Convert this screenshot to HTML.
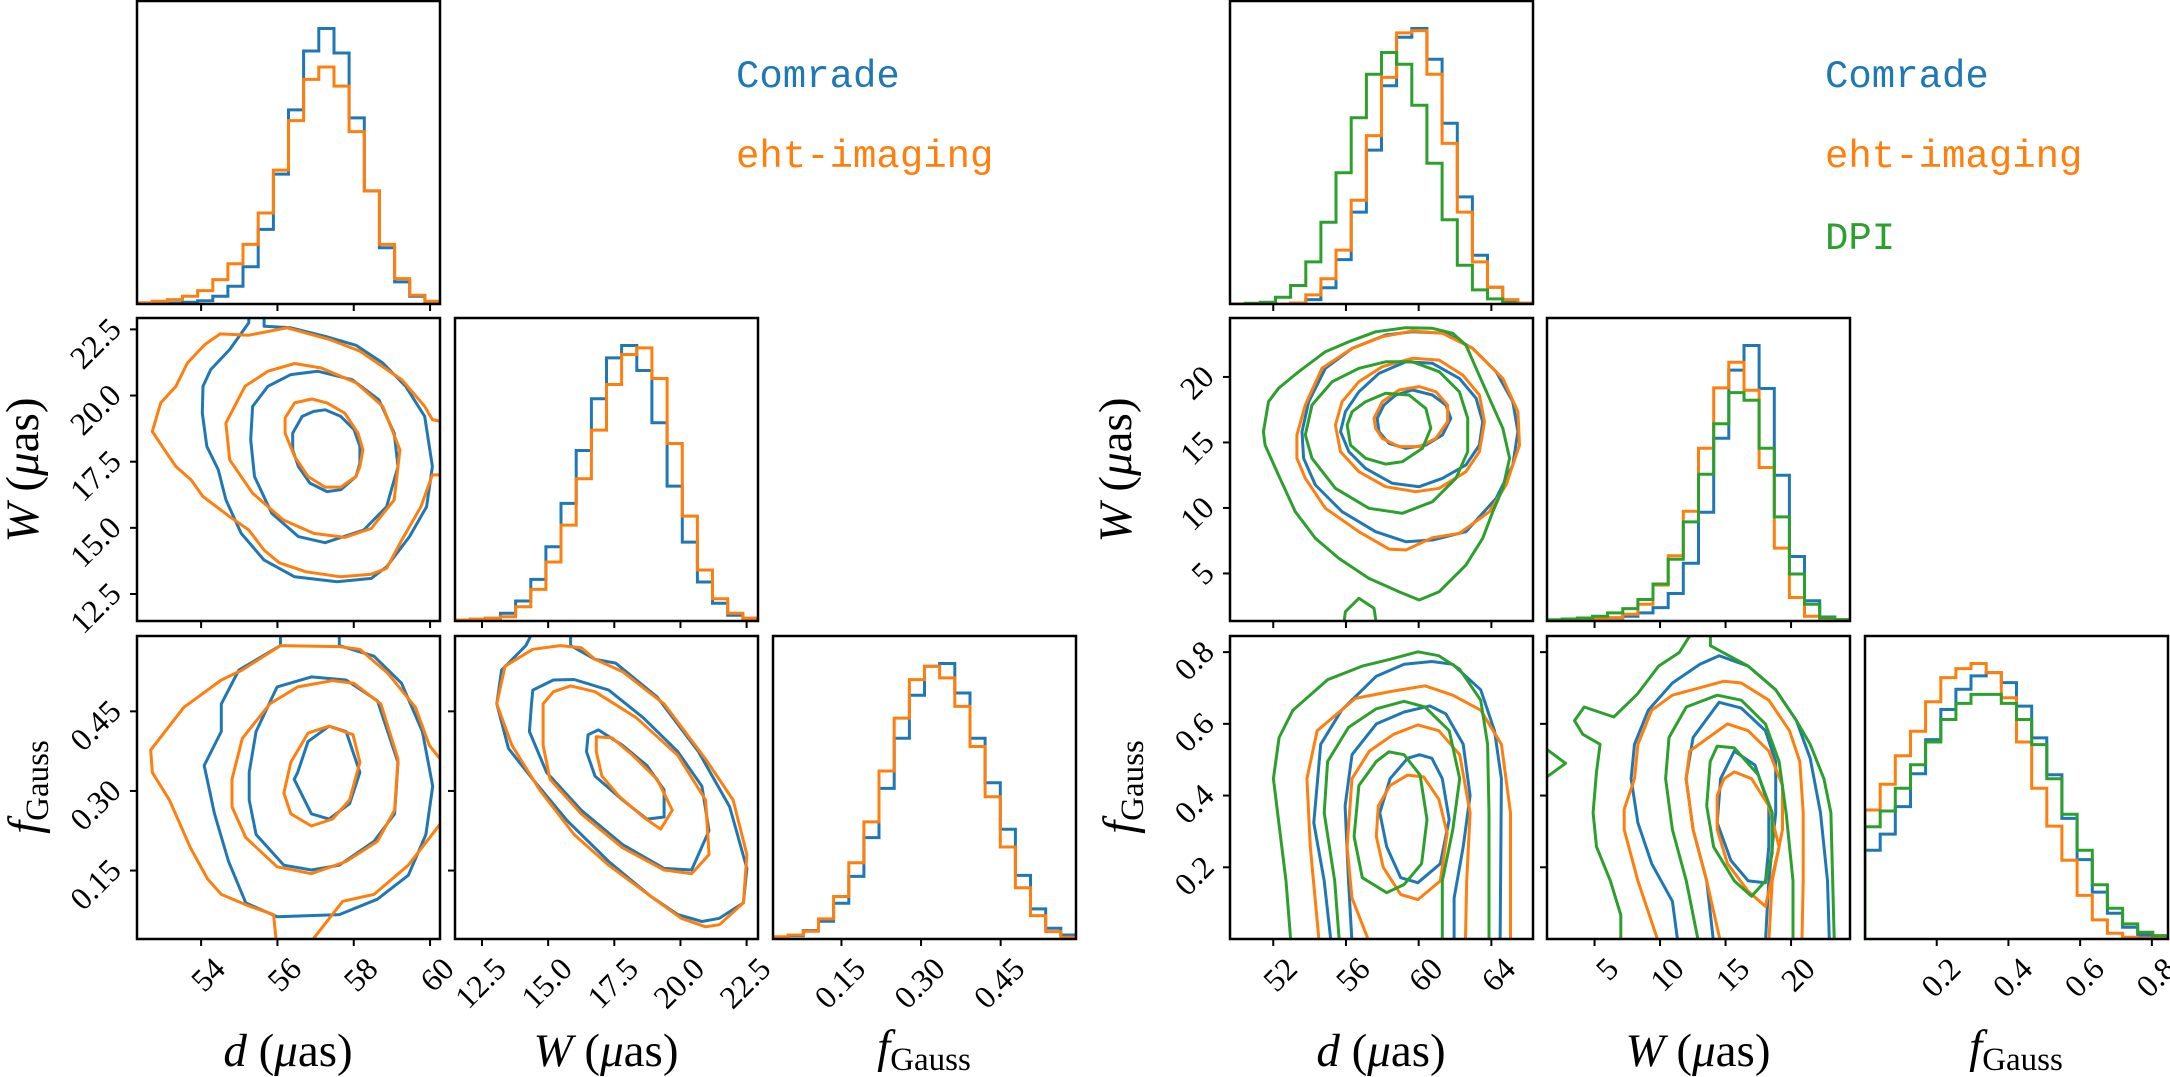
<!DOCTYPE html>
<html><head><meta charset="utf-8"><title>Corner plots</title>
<style>
html,body{margin:0;padding:0;background:#fff;}
svg{display:block;}
text{font-family:"Liberation Serif",serif;fill:#000;}
.leg{font-family:"Liberation Mono",monospace;font-size:39px;}
</style></head>
<body>
<svg id="chart" xmlns="http://www.w3.org/2000/svg" width="2170" height="1077" viewBox="0 0 2170 1077">
<rect x="0" y="0" width="2170" height="1077" fill="#fff"/>
<text class="leg" x="736" y="87" style="fill:#1f77b4">Comrade</text>
<text class="leg" x="736" y="167" style="fill:#ff7f0e">eht-imaging</text>
<text class="leg" x="1825" y="87" style="fill:#1f77b4">Comrade</text>
<text class="leg" x="1825" y="167" style="fill:#ff7f0e">eht-imaging</text>
<text class="leg" x="1825" y="249" style="fill:#2ca02c">DPI</text>
</svg>
<script>
// ---------- data ----------
const leftRanges = [[52.32,60.26],[11.48,22.93],[0.021,0.592]];
const rightRanges = [[49.62,66.29],[1.37,24.5],[0.0,0.845]];
const leftTicks = [[54,56,58,60],[12.5,15,17.5,20,22.5],[0.15,0.30,0.45]];
const leftTickLabels = [['54','56','58','60'],['12.5','15.0','17.5','20.0','22.5'],['0.15','0.30','0.45']];
const rightTicks = [[52,56,60,64],[5,10,15,20],[0.2,0.4,0.6,0.8]];
const rightTickLabels = [['52','56','60','64'],['5','10','15','20'],['0.2','0.4','0.6','0.8']];

const histLeftD_comrade = [0,2,3,5,10,23,53,111,223,388,580,756,823,750,556,338,168,66,23,6];
const histLeftD_eht = [4,8,13,23,40,73,120,178,272,400,548,671,708,651,515,338,178,76,26,8];
const histLeftW_comrade = [3,5,8,23,60,125,223,353,512,667,790,827,752,595,405,237,117,53,17,8];
const histLeftW_eht = [3,5,8,13,43,95,177,288,427,573,710,800,820,728,533,315,153,67,23,8];
const histLeftF_comrade = [5,10,25,53,107,187,303,450,600,728,815,823,735,600,467,328,190,90,32,12];
const histLeftF_eht = [7,12,23,60,127,228,350,502,660,775,815,780,695,575,425,275,153,70,22,5];
const histRightD_comrade = [0,0,0,0,3,13,48,132,273,457,648,792,818,727,537,318,145,50,10,2];
const histRightD_eht = [0,0,0,0,3,27,75,160,308,500,673,805,812,682,477,273,125,50,13,2];
const histRightD_dpi = [0,2,5,20,55,125,243,390,553,682,747,712,590,418,250,115,42,15,2,0];
const histRightW_comrade = [2,4,5,7,9,14,24,40,82,172,324,544,747,820,692,434,192,60,12,4];
const histRightW_eht = [2,2,4,7,10,20,50,107,194,327,514,694,770,687,457,217,70,14,4,4];
const histRightW_dpi = [4,6,9,14,24,37,64,110,184,295,437,587,680,657,514,310,140,50,10,4];
const histRightF_comrade = [265,313,395,493,595,685,745,785,795,765,695,600,490,360,237,140,77,35,12,7];
const histRightF_eht = [385,462,547,620,708,780,807,822,795,720,588,450,337,235,130,57,17,5,3,3];
const histRightF_dpi = [335,382,450,520,588,655,703,730,730,703,655,580,478,372,265,162,92,45,20,10];

const contLeftDW_comrade = [
 {closed:true, pts:[[56.40,18.58],[56.65,19.21],[56.95,19.40],[57.25,19.46],[57.66,19.21],[58.01,18.71],[58.16,18.08],[58.16,17.45],[58.06,16.94],[57.66,16.44],[57.30,16.37],[56.85,16.69],[56.55,17.32],[56.40,17.95]]},
 {closed:true, pts:[[55.35,19.59],[55.75,20.35],[56.35,20.79],[57.05,20.92],[57.96,20.60],[58.66,19.84],[59.06,18.58],[59.16,17.32],[58.86,15.80],[58.26,14.92],[57.25,14.44],[56.55,14.67],[55.85,15.55],[55.40,16.94],[55.30,18.33]]},
 {closed:false, pts:[[55.65,22.95],[55.65,22.62],[56.35,22.56],[57.25,22.24],[58.06,21.90],[58.76,21.23],[59.36,20.35],[59.86,19.21],[60.06,17.32],[59.91,15.80],[59.46,14.67],[58.86,13.53],[58.46,13.09],[57.56,12.96],[56.45,13.15],[55.65,13.78],[55.05,14.79],[54.65,16.06],[54.45,17.19],[54.15,18.08],[54.03,19.34],[54.05,20.35],[54.25,20.98],[54.75,21.74],[55.25,22.75],[55.25,22.95]]}
];
const contLeftDW_eht = [
 {closed:true, pts:[[56.20,19.15],[56.45,19.72],[56.90,19.87],[57.30,19.72],[57.76,19.34],[58.11,18.58],[58.24,17.95],[58.16,17.32],[58.06,16.94],[57.66,16.54],[57.25,16.54],[56.80,16.94],[56.45,17.70],[56.20,18.58]]},
 {closed:true, pts:[[54.65,18.96],[55.15,20.35],[55.75,20.92],[56.45,21.21],[57.15,21.04],[58.06,20.48],[58.76,19.59],[59.21,17.95],[59.06,16.06],[58.46,14.98],[57.76,14.64],[56.95,14.79],[56.15,15.30],[55.35,16.31],[54.75,17.57]]},
 {closed:false, pts:[[60.3,17.0],[60.06,17.0],[59.76,15.80],[59.26,14.54],[58.86,13.47],[58.46,13.25],[57.66,13.15],[56.75,13.34],[56.05,13.68],[55.65,14.16],[55.25,14.92],[54.75,15.42],[54.05,16.18],[53.74,16.81],[53.34,17.32],[53.04,17.95],[52.72,18.64],[52.94,19.72],[53.34,20.35],[53.64,21.23],[54.10,21.93],[54.50,22.33],[55.25,22.28],[56.25,22.56],[57.36,22.12],[58.16,21.68],[59.26,20.60],[59.86,19.59],[60.06,19.09],[60.3,19.02]]}
];
const contLeftDF_comrade = [
 {closed:true, pts:[[56.53,0.335],[56.80,0.393],[57.35,0.422],[57.80,0.412],[58.16,0.335],[57.89,0.276],[57.35,0.247],[56.89,0.257],[56.44,0.322]]},
 {closed:true, pts:[[55.26,0.335],[55.44,0.412],[55.99,0.496],[56.89,0.515],[57.80,0.509],[58.62,0.470],[59.16,0.354],[59.07,0.257],[58.53,0.205],[57.62,0.160],[56.89,0.151],[56.17,0.160],[55.44,0.218],[55.26,0.283]]},
 {closed:false, pts:[[57.62,0.6],[57.62,0.574],[58.53,0.554],[59.25,0.503],[59.80,0.412],[60.07,0.309],[59.89,0.218],[59.43,0.141],[58.62,0.096],[57.62,0.067],[55.99,0.063],[55.17,0.089],[54.72,0.167],[54.35,0.257],[54.08,0.348],[54.53,0.412],[54.53,0.464],[54.99,0.528],[56.08,0.574],[56.08,0.6]]}
];
const contLeftDF_eht = [
 {closed:true, pts:[[56.17,0.296],[56.35,0.354],[56.80,0.409],[57.35,0.422],[57.98,0.406],[58.16,0.354],[57.89,0.283],[57.44,0.247],[56.89,0.234],[56.35,0.257]]},
 {closed:true, pts:[[54.81,0.322],[55.08,0.399],[55.80,0.464],[56.53,0.496],[57.44,0.508],[58.0,0.503],[58.71,0.464],[59.16,0.360],[59.07,0.264],[58.62,0.205],[57.80,0.167],[56.89,0.144],[55.99,0.157],[55.17,0.212],[54.81,0.270]]},
 {closed:false, pts:[[60.3,0.357],[59.98,0.386],[59.62,0.457],[58.89,0.522],[58.16,0.567],[57.62,0.572],[56.08,0.574],[55.08,0.528],[54.53,0.509],[53.54,0.457],[52.68,0.377],[52.72,0.335],[53.17,0.283],[53.72,0.193],[54.17,0.134],[54.53,0.105],[55.26,0.083],[55.90,0.067],[55.99,0.0]]},
 {closed:false, pts:[[56.71,0.0],[57.71,0.092],[58.53,0.105],[59.43,0.160],[60.3,0.241]]}
];
const contLeftWF_comrade = [
 {closed:true, pts:[[16.51,0.406],[16.90,0.415],[17.81,0.386],[18.73,0.348],[19.38,0.302],[19.38,0.251],[18.73,0.247],[17.81,0.283],[16.77,0.328],[16.45,0.374]]},
 {closed:true, pts:[[14.42,0.490],[15.20,0.509],[15.98,0.510],[17.29,0.490],[18.59,0.438],[19.90,0.374],[20.81,0.309],[21.08,0.225],[20.42,0.151],[19.38,0.154],[17.81,0.199],[16.25,0.264],[14.94,0.335],[14.29,0.412],[14.37,0.464]]},
 {closed:false, pts:[[15.85,0.6],[15.85,0.574],[16.77,0.548],[17.55,0.541],[19.12,0.477],[20.68,0.374],[21.86,0.270],[22.51,0.154],[22.38,0.089],[21.47,0.060],[20.81,0.054],[19.90,0.067],[18.86,0.102],[17.29,0.167],[15.72,0.244],[14.42,0.322],[13.50,0.380],[13.06,0.464],[13.24,0.528],[14.16,0.574],[14.42,0.6]]}
];
const contLeftWF_eht = [
 {closed:true, pts:[[16.82,0.402],[17.42,0.400],[18.20,0.367],[19.12,0.322],[19.69,0.264],[19.25,0.228],[18.59,0.251],[17.68,0.290],[17.03,0.328],[16.82,0.374]]},
 {closed:true, pts:[[14.81,0.464],[15.20,0.487],[15.85,0.498],[16.77,0.487],[18.33,0.438],[19.90,0.367],[20.95,0.283],[21.08,0.180],[20.42,0.144],[19.38,0.151],[17.81,0.193],[16.25,0.257],[15.07,0.322],[14.81,0.386]]},
 {closed:true, pts:[[13.37,0.535],[14.42,0.567],[15.46,0.574],[16.25,0.570],[16.77,0.548],[17.81,0.525],[19.38,0.464],[20.95,0.360],[21.99,0.283],[22.51,0.180],[22.38,0.089],[21.47,0.048],[20.95,0.044],[20.03,0.060],[18.86,0.102],[17.29,0.160],[15.98,0.218],[14.68,0.302],[13.63,0.386],[13.06,0.464]]}
];
const contRightDW_comrade = [
 {closed:true, pts:[[57.72,16.84],[58.09,17.86],[58.74,18.62],[59.66,19.00],[60.76,18.62],[61.50,17.86],[61.77,16.84],[61.31,15.57],[60.39,14.80],[59.29,14.55],[58.37,14.93],[57.82,15.82]]},
 {closed:true, pts:[[55.70,15.82],[55.97,17.35],[56.71,18.87],[57.82,20.27],[59.29,21.16],[60.76,21.04],[62.24,19.89],[63.16,18.37],[63.52,16.58],[63.34,14.80],[62.60,13.28],[61.31,12.26],[60.03,11.62],[58.55,11.88],[57.08,13.02],[56.16,14.29]]},
 {closed:true, pts:[[53.58,15.82],[53.95,18.11],[54.87,20.66],[56.34,22.18],[58.18,23.20],[59.66,23.45],[61.50,23.33],[62.97,22.18],[64.26,20.40],[65.18,18.11],[65.46,15.82],[65.18,13.28],[64.26,10.73],[62.60,8.19],[60.76,7.55],[59.29,7.42],[57.63,8.19],[55.79,9.71],[54.32,11.75],[53.67,13.79]]}
];
const contRightDW_eht = [
 {closed:true, pts:[[57.54,16.84],[58.00,18.11],[58.92,19.00],[60.03,19.26],[60.95,18.87],[61.59,17.86],[61.59,16.58],[60.95,15.31],[60.03,14.68],[58.92,14.68],[58.00,15.31],[57.63,16.08]]},
 {closed:true, pts:[[55.42,16.33],[55.79,18.11],[56.71,19.64],[58.00,20.78],[59.66,21.42],[61.13,21.29],[62.42,20.15],[63.34,18.62],[63.62,16.58],[63.34,14.29],[62.60,12.77],[61.13,11.50],[59.84,11.24],[58.18,11.62],[56.71,12.77],[55.70,14.29]]},
 {closed:true, pts:[[53.30,15.57],[53.76,17.86],[54.68,20.66],[56.34,22.18],[58.00,23.07],[59.66,23.51],[61.31,23.33],[62.97,22.18],[64.63,19.89],[65.46,17.35],[65.55,14.80],[64.81,11.75],[63.89,9.71],[62.24,8.06],[60.76,7.73],[59.29,6.79],[58.37,6.86],[56.71,8.19],[54.87,9.97],[53.76,12.26],[53.30,13.79]]}
];
const contRightDW_dpi = [
 {closed:true, pts:[[56.07,16.33],[56.34,17.35],[57.08,18.11],[58.18,18.75],[59.47,18.62],[60.39,17.60],[60.67,16.08],[60.21,14.55],[59.10,13.53],[58.18,13.35],[57.08,13.79],[56.25,14.80]]},
 {closed:true, pts:[[53.76,15.57],[54.13,17.86],[55.24,19.64],[56.71,20.66],[58.18,21.16],[59.66,21.16],[61.13,20.40],[62.24,18.87],[62.70,16.84],[62.70,14.29],[62.05,12.26],[60.76,10.48],[59.10,9.59],[57.26,9.97],[55.42,11.50],[54.13,13.79]]},
 {closed:true, pts:[[51.46,15.82],[51.74,18.11],[52.29,19.13],[53.40,20.40],[54.87,21.93],[56.16,22.69],[57.63,23.45],[59.29,23.76],[60.76,23.71],[61.87,23.33],[62.60,22.44],[63.16,20.66],[63.89,18.37],[64.63,16.08],[65.00,13.79],[64.63,11.50],[64.08,9.71],[63.52,7.68],[62.60,5.64],[61.13,3.61],[60.03,2.97],[58.92,3.61],[57.26,4.62],[55.61,6.15],[54.32,7.68],[53.21,9.71],[52.29,12.51],[51.55,14.80]]},
 {closed:false, pts:[[55.88,1.2],[55.97,2.08],[56.71,3.10],[57.54,2.34],[57.67,1.2]]}
];
const contRightDF_comrade = [
 {closed:true, pts:[[59.96,0.157],[59.01,0.171],[58.24,0.257],[57.86,0.352],[58.43,0.447],[59.39,0.504],[60.04,0.514],[60.73,0.504],[61.30,0.447],[61.68,0.333],[61.19,0.210]]},
 {closed:false, pts:[[56.33,-0.01],[56.14,0.162],[55.95,0.371],[56.33,0.514],[57.67,0.600],[59.20,0.633],[60.61,0.650],[61.49,0.628],[62.45,0.543],[62.83,0.400],[62.45,0.257],[61.95,0.114],[61.95,-0.01]]},
 {closed:false, pts:[[55.18,-0.01],[54.80,0.162],[54.23,0.324],[54.61,0.543],[55.76,0.638],[57.67,0.733],[59.20,0.766],[60.73,0.774],[61.88,0.766],[63.41,0.695],[64.17,0.581],[64.55,0.447],[64.48,-0.01]]}
];
const contRightDF_eht = [
 {closed:true, pts:[[59.96,0.110],[59.01,0.124],[58.05,0.200],[57.67,0.286],[57.78,0.371],[58.43,0.428],[59.39,0.457],[60.27,0.452],[61.11,0.390],[61.57,0.295],[61.19,0.162]]},
 {closed:false, pts:[[57.29,-0.01],[56.33,0.114],[56.06,0.257],[56.33,0.447],[57.29,0.524],[58.62,0.571],[59.96,0.597],[61.11,0.581],[62.26,0.514],[62.83,0.352],[62.64,0.162],[62.57,-0.01]]},
 {closed:false, pts:[[54.53,-0.01],[54.04,0.257],[53.85,0.447],[54.42,0.581],[56.52,0.671],[58.43,0.690],[60.35,0.706],[61.88,0.680],[63.41,0.638],[64.55,0.543],[65.05,0.352],[65.05,-0.01]]}
];
const contRightDF_dpi = [
 {closed:true, pts:[[58.24,0.129],[56.90,0.171],[56.45,0.286],[56.71,0.428],[57.67,0.495],[58.36,0.522],[59.20,0.514],[60.08,0.457],[60.46,0.333],[60.16,0.210],[59.20,0.152]]},
 {closed:false, pts:[[55.64,-0.01],[55.38,0.162],[54.80,0.352],[54.99,0.495],[56.14,0.590],[57.67,0.642],[59.20,0.663],[60.35,0.647],[61.68,0.581],[62.26,0.447],[61.88,0.305],[61.30,0.162],[61.30,-0.01]]},
 {closed:false, pts:[[52.97,-0.01],[52.70,0.162],[52.01,0.447],[52.32,0.562],[53.08,0.638],[54.99,0.723],[56.90,0.761],[58.43,0.780],[59.96,0.801],[61.11,0.790],[62.26,0.752],[63.41,0.666],[63.79,0.543],[63.87,0.352],[63.87,-0.01]]}
];
const contRightWF_comrade = [
 {closed:true, pts:[[15.67,0.524],[17.25,0.485],[18.30,0.371],[18.30,0.257],[18.04,0.157],[16.73,0.162],[15.41,0.219],[14.36,0.324],[14.62,0.447]]},
 {closed:false, pts:[[14.09,-0.01],[13.56,0.162],[12.52,0.305],[11.99,0.447],[12.52,0.562],[14.51,0.660],[16.20,0.644],[18.04,0.581],[18.83,0.495],[18.83,0.352],[18.30,0.162],[18.04,-0.01]]},
 {closed:false, pts:[[11.36,-0.01],[10.94,0.105],[9.36,0.210],[8.31,0.324],[7.79,0.447],[8.05,0.543],[9.10,0.638],[10.94,0.714],[13.04,0.766],[14.51,0.790],[16.73,0.761],[18.83,0.695],[20.41,0.609],[21.46,0.504],[22.25,0.352],[22.78,0.162],[22.93,-0.01]]}
];
const contRightWF_eht = [
 {closed:true, pts:[[15.67,0.466],[16.99,0.447],[18.30,0.371],[19.09,0.257],[18.30,0.133],[18.04,0.091],[16.73,0.133],[15.15,0.210],[14.36,0.305],[14.36,0.400],[14.88,0.447]]},
 {closed:false, pts:[[14.62,-0.01],[13.56,0.162],[12.52,0.305],[11.99,0.447],[12.26,0.524],[15.15,0.600],[16.73,0.581],[18.30,0.524],[19.35,0.428],[19.35,0.305],[18.56,0.162],[18.30,-0.01]]},
 {closed:false, pts:[[9.89,-0.01],[8.31,0.162],[7.26,0.305],[7.26,0.362],[8.05,0.447],[8.31,0.543],[9.36,0.638],[10.94,0.680],[14.88,0.719],[16.20,0.714],[18.30,0.666],[19.88,0.581],[20.67,0.495],[20.93,0.352],[20.93,0.162],[20.83,-0.01]]}
];
const contRightWF_dpi = [
 {closed:true, pts:[[14.36,0.538],[15.67,0.533],[17.51,0.457],[18.56,0.352],[18.56,0.238],[18.04,0.162],[16.99,0.119],[15.67,0.162],[14.09,0.257],[13.56,0.371],[13.83,0.495]]},
 {closed:false, pts:[[12.94,-0.01],[12.0,0.162],[10.94,0.305],[10.42,0.447],[10.68,0.562],[12.0,0.647],[14.36,0.680],[16.20,0.666],[18.04,0.600],[19.09,0.495],[19.62,0.352],[20.15,0.162],[20.15,-0.01]]},
 {closed:false, pts:[[7.00,-0.01],[7.00,0.067],[6.21,0.162],[5.15,0.257],[4.89,0.352],[5.15,0.466],[5.42,0.543],[4.10,0.571],[3.47,0.609],[4.21,0.647],[6.47,0.619],[7.79,0.666],[8.31,0.685],[9.89,0.761],[11.47,0.799],[12.52,0.86]]},
 {closed:false, pts:[[13.84,0.86],[13.84,0.818],[16.73,0.761],[18.83,0.695],[20.41,0.609],[21.46,0.543],[22.51,0.447],[23.04,0.352],[23.30,-0.01]]},
 {closed:false, pts:[[1.2,0.533],[2.79,0.490],[1.2,0.448]]}
];

// ---------- drawing ----------
const NS = 'http://www.w3.org/2000/svg';
const svg = document.getElementById('chart');
const COLORS = {comrade:'#1f77b4', eht:'#ff7f0e', dpi:'#2ca02c'};
let clipId = 0;
function mk(tag, attrs, parent){
  const e = document.createElementNS(NS, tag);
  for (const k in attrs) e.setAttribute(k, attrs[k]);
  (parent || svg).appendChild(e);
  return e;
}
function lin(lo, hi, a, b){ return v => a + (v - lo) / (hi - lo) * (b - a); }

function drawCorner(cfg){
  const W = 303, H = 303;
  const varNames = ['d','w','f'];
  for (let i = 0; i < 3; i++){
    for (let j = 0; j <= i; j++){
      const x0 = cfg.cols[j], y0 = cfg.rows[i];
      const g = mk('g', {});
      
      
      const cid = 'clip' + (clipId++);
      const cp = mk('clipPath', {id: cid}, g);
      mk('rect', {x: x0, y: y0, width: W, height: H}, cp);
      const content = mk('g', {'clip-path': 'url(#' + cid + ')'}, g);
      const xr = cfg.ranges[j];
      const sx = lin(xr[0], xr[1], x0, x0 + W);
      if (i === j){
        const series = cfg.hists[i];
        let mx = 0;
        series.forEach(s => s.vals.forEach(v => { if (v > mx) mx = v; }));
        const sy = lin(0, mx * 1.1, y0 + H, y0);
        series.forEach(s => {
          const n = s.vals.length;
          const bw = (xr[1] - xr[0]) / n;
          let d = 'M' + sx(xr[0]).toFixed(1) + ',' + sy(0).toFixed(1);
          s.vals.forEach((v, k) => {
            const a = sx(xr[0] + k * bw), b = sx(xr[0] + (k + 1) * bw), yy = sy(v);
            d += 'L' + a.toFixed(1) + ',' + yy.toFixed(1) + 'L' + b.toFixed(1) + ',' + yy.toFixed(1);
          });
          d += 'L' + sx(xr[1]).toFixed(1) + ',' + sy(0).toFixed(1);
          const p = mk('path', {d: d, fill: 'none', stroke: COLORS[s.key], 'stroke-width': 3, 'stroke-linejoin': 'miter'}, content);
          
          
        });
      } else {
        const yr = cfg.ranges[i];
        const sy = lin(yr[0], yr[1], y0 + H, y0);
        const sets = cfg.contours[i + ',' + j];
        sets.forEach(s => {
          s.lines.forEach((ln, k) => {
            let d = '';
            ln.pts.forEach((pt, m) => { d += (m ? 'L' : 'M') + sx(pt[0]).toFixed(1) + ',' + sy(pt[1]).toFixed(1); });
            if (ln.closed) d += 'Z';
            const p = mk('path', {d: d, fill: 'none', stroke: COLORS[s.key], 'stroke-width': 3, 'stroke-linejoin': 'round'}, content);
            
            
          });
        });
        cfg.ticks[i].forEach((t, k) => {
          const yy = sy(t);
          mk('line', {x1: x0 - 7, x2: x0, y1: yy, y2: yy, stroke: '#000', 'stroke-width': 2}, g);
          if (j === 0){
            const tx = mk('text', {x: x0 - 22, y: yy - 6, 'font-size': 32, 'text-anchor': 'end', 'dominant-baseline': 'central', transform: 'rotate(-45 ' + (x0 - 22) + ' ' + (yy - 6) + ')'}, g);
            tx.textContent = cfg.tickLabels[i][k];
            
            
          }
        });
      }
      cfg.ticks[j].forEach((t, k) => {
        const xx = sx(t);
        mk('line', {x1: xx, x2: xx, y1: y0 + H, y2: y0 + H + 7, stroke: '#000', 'stroke-width': 2}, g);
        if (i === 2){
          const ax = xx + 18, ay = y0 + H + 24;
          const tx = mk('text', {x: ax, y: ay, 'font-size': 32, 'text-anchor': 'end', 'dominant-baseline': 'central', transform: 'rotate(-45 ' + ax + ' ' + ay + ')'}, g);
          tx.textContent = cfg.tickLabels[j][k];
          
          
        }
      });
      const fr = mk('rect', {x: x0, y: y0, width: W, height: H, fill: 'none', stroke: '#000', 'stroke-width': 2.5}, g);
      
      
    }
  }
}

drawCorner({
  prefix: 'left', cols: [137, 455, 773], rows: [1, 318, 636],
  ranges: leftRanges, ticks: leftTicks, tickLabels: leftTickLabels,
  hists: [
    [{key:'comrade', vals: histLeftD_comrade}, {key:'eht', vals: histLeftD_eht}],
    [{key:'comrade', vals: histLeftW_comrade}, {key:'eht', vals: histLeftW_eht}],
    [{key:'comrade', vals: histLeftF_comrade}, {key:'eht', vals: histLeftF_eht}]
  ],
  contours: {
    '1,0': [{key:'comrade', lines: contLeftDW_comrade}, {key:'eht', lines: contLeftDW_eht}],
    '2,0': [{key:'comrade', lines: contLeftDF_comrade}, {key:'eht', lines: contLeftDF_eht}],
    '2,1': [{key:'comrade', lines: contLeftWF_comrade}, {key:'eht', lines: contLeftWF_eht}]
  }
});
drawCorner({
  prefix: 'right', cols: [1230, 1547, 1865], rows: [1, 318, 636],
  ranges: rightRanges, ticks: rightTicks, tickLabels: rightTickLabels,
  hists: [
    [{key:'comrade', vals: histRightD_comrade}, {key:'eht', vals: histRightD_eht}, {key:'dpi', vals: histRightD_dpi}],
    [{key:'comrade', vals: histRightW_comrade}, {key:'eht', vals: histRightW_eht}, {key:'dpi', vals: histRightW_dpi}],
    [{key:'comrade', vals: histRightF_comrade}, {key:'eht', vals: histRightF_eht}, {key:'dpi', vals: histRightF_dpi}]
  ],
  contours: {
    '1,0': [{key:'comrade', lines: contRightDW_comrade}, {key:'eht', lines: contRightDW_eht}, {key:'dpi', lines: contRightDW_dpi}],
    '2,0': [{key:'comrade', lines: contRightDF_comrade}, {key:'eht', lines: contRightDF_eht}, {key:'dpi', lines: contRightDF_dpi}],
    '2,1': [{key:'comrade', lines: contRightWF_comrade}, {key:'eht', lines: contRightWF_eht}, {key:'dpi', lines: contRightWF_dpi}]
  }
});

function axisLabel(name, kind, x, y, rot){
  const t = mk('text', {x: x, y: y, 'font-size': 47, 'text-anchor': 'middle'});
  if (rot) t.setAttribute('transform', 'rotate(-90 ' + x + ' ' + y + ')');
  
  
  if (kind === 'f'){
    const a = mk('tspan', {'font-style': 'italic'}, t); a.textContent = 'f';
    const b = mk('tspan', {'font-size': 33, dy: 8}, t); b.textContent = 'Gauss';
  } else {
    const a = mk('tspan', {'font-style': 'italic'}, t); a.textContent = kind === 'd' ? 'd' : 'W';
    const b = mk('tspan', {}, t); b.textContent = ' (';
    const c = mk('tspan', {'font-style': 'italic'}, t); c.textContent = 'μ';
    const e = mk('tspan', {}, t); e.textContent = 'as)';
  }
}
axisLabel('x-axis-title-left-d', 'd', 288, 1066, false);
axisLabel('x-axis-title-left-w', 'W', 606, 1066, false);
axisLabel('x-axis-title-left-f', 'f', 924, 1062, false);
axisLabel('y-axis-title-left-w', 'W', 38, 470, true);
axisLabel('y-axis-title-left-f', 'f', 40, 787, true);
axisLabel('x-axis-title-right-d', 'd', 1381, 1066, false);
axisLabel('x-axis-title-right-w', 'W', 1698, 1066, false);
axisLabel('x-axis-title-right-f', 'f', 2016, 1062, false);
axisLabel('y-axis-title-right-w', 'W', 1131, 470, true);
axisLabel('y-axis-title-right-f', 'f', 1135, 787, true);
</script>
</body></html>
